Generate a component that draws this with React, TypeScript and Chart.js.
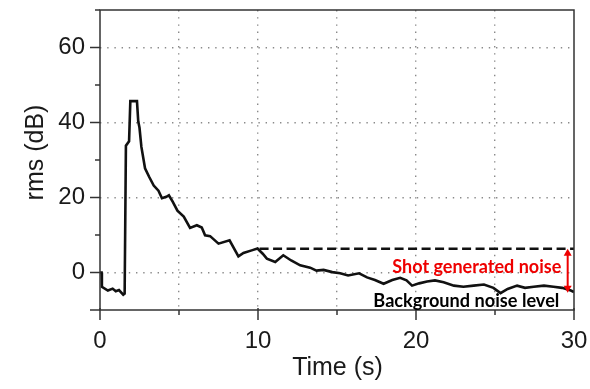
import React, { useEffect, useRef } from 'react';
import { Chart, registerables } from 'chart.js';

Chart.register(...registerables);

// ---------- data ----------
const TIME_S = [
  0, 0.1, 0.12, 0.5, 0.8, 1.0, 1.2, 1.47, 1.56, 1.64, 1.84, 1.92, 2.34, 2.42, 2.5, 2.62,
  2.85, 3.1, 3.4, 3.7, 3.92, 4.2, 4.36, 4.6, 4.9, 5.3, 5.7, 6.13, 6.44, 6.65, 6.97,
  7.5, 8.2, 8.76, 9.08, 9.6, 9.97, 10.3, 10.56, 11.09, 11.6, 12.1, 12.67, 13.3, 13.7,
  14.15, 14.7, 15.2, 15.7, 16.4, 16.9, 17.4, 17.95, 18.5, 19.0, 19.4, 19.75, 20.2,
  20.7, 21.2, 21.75, 22.4, 23.0, 23.65, 24.3, 24.9, 25.35, 25.8, 26.4, 26.9, 27.45,
  28.1, 28.7, 29.25, 29.8, 30,
];
const RMS_DB = [
  0, 0, -3.8, -4.8, -4.3, -5.0, -4.7, -5.9, -5.6, 33.8, 35.0, 45.7, 45.7, 40.3, 38.6, 33.5,
  27.8, 25.6, 23.2, 21.8, 19.8, 20.2, 20.6, 18.9, 16.5, 14.9, 11.9, 12.6, 12.0, 9.9, 9.7,
  7.7, 8.6, 4.3, 5.2, 5.9, 6.4, 5.0, 3.7, 2.8, 4.6, 3.2, 1.9, 1.3, 0.5,
  0.7, 0.1, -0.2, -0.8, -0.2, -1.3, -2.0, -3.0, -2.0, -1.4, -2.1, -3.5, -2.9,
  -2.4, -2.1, -2.6, -3.5, -3.8, -3.5, -3.2, -4.1, -5.5, -4.4, -3.5, -4.1, -3.8,
  -3.5, -3.8, -4.1, -4.8, -5.2,
];

// shot-generated noise reference (dashed line)
const SHOT_LINE_TIME_S = [10.1, 30];
const SHOT_LINE_DB = [6.35, 6.35];

// arrow between shot level and background level
const ARROW_TIME_S = 29.6;
const ARROW_TOP_DB = 6.35;
const ARROW_BOTTOM_DB = -5.4;

// axis ticks
const X_TICK_VALUES = [0, 5, 10, 15, 20, 25, 30];
const X_LABELED_TICKS = [0, 10, 20, 30];
const X_MINOR_TICKS = [5, 15, 25];
const Y_LABELED_TICKS = [0, 20, 40, 60];
const Y_MAJOR_TICKS = [-10, 0, 20, 40, 60];
const Y_MINOR_TICKS = [10, 30, 50, 70];

const X_TITLE = 'Time (s)';
const Y_TITLE = 'rms (dB)';
const SHOT_LABEL = 'Shot generated noise';
const BACKGROUND_LABEL = 'Background noise level';

// label anchors (data coords)
const SHOT_LABEL_POS = { t: 18.5, db: -0.05 };
const BACKGROUND_LABEL_POS = { t: 17.3, db: -9.28 };

// ---------- styles ----------
const AXIS_COLOR = '#333333';
const TEXT_COLOR = '#1a1a1a';
const RED = '#ee0000';
const FONT = "'Liberation Sans', Arial, sans-serif";

const zeroPad = (s: any) => {
  s.paddingTop = 0;
  s.paddingBottom = 0;
  s.paddingLeft = 0;
  s.paddingRight = 0;
};

const decorPlugin = {
  id: 'decor',
  afterDraw(chart: any) {
    const { ctx, chartArea: a, scales } = chart;
    const x = scales.x;
    const y = scales.y;
    ctx.save();

    // frame
    ctx.strokeStyle = AXIS_COLOR;
    ctx.lineWidth = 1.5;
    ctx.strokeRect(a.left, a.top, a.right - a.left, a.bottom - a.top);

    const seg = (x1: number, y1: number, x2: number, y2: number) => {
      ctx.beginPath();
      ctx.moveTo(x1, y1);
      ctx.lineTo(x2, y2);
      ctx.stroke();
    };
    // y ticks
    for (const v of Y_MAJOR_TICKS) {
      const py = y.getPixelForValue(v);
      seg(a.left - 10, py, a.left, py);
    }
    for (const v of Y_MINOR_TICKS) {
      const py = y.getPixelForValue(v);
      seg(a.left - 5, py, a.left, py);
    }
    // x ticks
    for (const v of X_LABELED_TICKS) {
      const px = x.getPixelForValue(v);
      seg(px, a.bottom - 2, px, a.bottom + 10);
    }
    for (const v of X_MINOR_TICKS) {
      const px = x.getPixelForValue(v);
      seg(px, a.bottom, px, a.bottom + 5);
    }

    // arrow
    const ax = x.getPixelForValue(ARROW_TIME_S);
    const ay1 = y.getPixelForValue(ARROW_TOP_DB);
    const ay2 = y.getPixelForValue(ARROW_BOTTOM_DB);
    ctx.strokeStyle = RED;
    ctx.fillStyle = RED;
    ctx.lineWidth = 2;
    seg(ax, ay1 + 5, ax, ay2 - 5);
    ctx.beginPath();
    ctx.moveTo(ax, ay1);
    ctx.lineTo(ax - 4, ay1 + 7);
    ctx.lineTo(ax + 4, ay1 + 7);
    ctx.closePath();
    ctx.fill();
    ctx.beginPath();
    ctx.moveTo(ax, ay2);
    ctx.lineTo(ax - 4, ay2 - 7);
    ctx.lineTo(ax + 4, ay2 - 7);
    ctx.closePath();
    ctx.fill();

    // annotation texts (width-fitted)
    const fitText = (txt: string, px: number, py: number, width: number, color: string) => {
      ctx.font = "bold 18px Lato, 'Open Sans', sans-serif";
      ctx.fillStyle = color;
      ctx.textAlign = 'left';
      ctx.textBaseline = 'alphabetic';
      const w = ctx.measureText(txt).width;
      ctx.save();
      ctx.translate(px, py);
      ctx.scale(width / w, 1);
      ctx.fillText(txt, 0, 0);
      ctx.restore();
    };
    fitText(SHOT_LABEL, x.getPixelForValue(SHOT_LABEL_POS.t), y.getPixelForValue(SHOT_LABEL_POS.db), 169, RED);
    fitText(
      BACKGROUND_LABEL,
      x.getPixelForValue(BACKGROUND_LABEL_POS.t),
      y.getPixelForValue(BACKGROUND_LABEL_POS.db),
      186,
      '#000000'
    );

    // axis titles
    ctx.fillStyle = TEXT_COLOR;
    ctx.font = `25px ${FONT}`;
    ctx.textAlign = 'center';
    ctx.textBaseline = 'alphabetic';
    ctx.fillText(X_TITLE, (a.left + a.right) / 2 + 0.5, 375);
    ctx.save();
    ctx.translate(43.3, 152.5);
    ctx.rotate(-Math.PI / 2);
    ctx.fillText(Y_TITLE, 0, 0);
    ctx.restore();

    ctx.restore();
  },
};

export default function App() {
  const ref = useRef<HTMLCanvasElement | null>(null);

  useEffect(() => {
    if (!ref.current) return;
    const chart = new Chart(ref.current, {
      type: 'line',
      data: {
        datasets: [
          {
            data: TIME_S.map((t, i) => ({ x: t, y: RMS_DB[i] })),
            borderColor: '#111111',
            borderWidth: 2.6,
            pointRadius: 0,
            tension: 0,
            fill: false,
          },
          {
            data: SHOT_LINE_TIME_S.map((t, i) => ({ x: t, y: SHOT_LINE_DB[i] })),
            borderColor: '#111111',
            borderWidth: 2.4,
            borderDash: [9, 4.5],
            pointRadius: 0,
            fill: false,
          },
        ],
      },
      options: {
        animation: false,
        responsive: false,
        events: [],
        layout: { padding: { top: 10, right: 16, left: 0, bottom: 0 }, autoPadding: false },
        plugins: { legend: { display: false }, tooltip: { enabled: false } },
        scales: {
          x: {
            type: 'linear',
            min: 0,
            max: 30,
            afterBuildTicks: (s: any) => {
              s.ticks = X_TICK_VALUES.map((v) => ({ value: v }));
            },
            afterFit: (s: any) => {
              s.height = 79;
              zeroPad(s);
            },
            ticks: {
              autoSkip: false,
              maxRotation: 0,
              padding: 17,
              color: TEXT_COLOR,
              font: { family: FONT, size: 24 },
              callback: (v: any) => (X_LABELED_TICKS.includes(Number(v)) ? String(v) : ''),
            },
            grid: {
              drawTicks: false,
              lineWidth: 1.4,
              color: (c: any) =>
                c.tick && c.tick.value > 0 && c.tick.value < 30 ? '#8a8a8a' : 'rgba(0,0,0,0)',
            },
            border: { display: false, dash: [1.4, 5.8] },
          },
          y: {
            type: 'linear',
            min: -10,
            max: 70,
            afterBuildTicks: (s: any) => {
              s.ticks = Y_LABELED_TICKS.map((v) => ({ value: v }));
            },
            afterFit: (s: any) => {
              s.width = 100;
              zeroPad(s);
            },
            ticks: {
              padding: 15,
              color: TEXT_COLOR,
              font: { family: FONT, size: 24 },
              callback: (v: any) => String(v),
            },
            grid: {
              drawTicks: false,
              lineWidth: 1.4,
              color: '#8a8a8a',
            },
            border: { display: false, dash: [1.4, 5.8] },
          },
        },
      },
      plugins: [decorPlugin],
    });
    return () => chart.destroy();
  }, []);

  return (
    <div style={{ position: 'absolute', left: 0, top: 0, width: 590, height: 389, background: '#fff' }}>
      <canvas ref={ref} width={590} height={389} />
    </div>
  );
}
